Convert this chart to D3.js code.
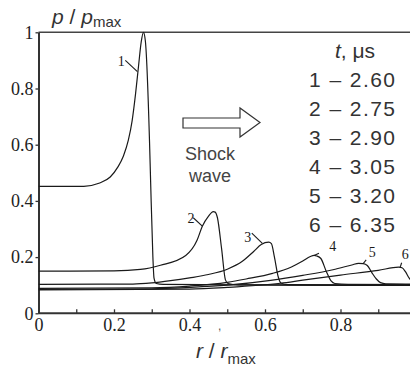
<!DOCTYPE html>
<html><head><meta charset="utf-8">
<script src="https://cdn.jsdelivr.net/npm/d3@7"></script>
<style>body{margin:0;background:#fff}svg{display:block}</style>
</head><body>
<script>
// ---- data ----
const curve1 = [[0,0.452],[0.12,0.452],[0.16,0.463],[0.19,0.485],[0.21,0.52],[0.225,0.56],[0.238,0.616],[0.248,0.685],[0.257,0.78],[0.265,0.88],[0.272,0.965],[0.278,1.0],[0.283,0.97],[0.294,0.616],[0.297,0.47],[0.303,0.2],[0.306,0.125],[0.312,0.106],[0.33,0.103],[0.6,0.101],[1.0,0.1]];
const curve2 = [[0,0.15],[0.2,0.151],[0.27,0.156],[0.323,0.171],[0.39,0.206],[0.42,0.26],[0.434,0.31],[0.45,0.345],[0.463,0.362],[0.468,0.36],[0.474,0.34],[0.485,0.23],[0.495,0.12],[0.502,0.106],[0.53,0.101],[1.0,0.099]];
const curve3 = [[0,0.103],[0.25,0.104],[0.3,0.108],[0.35,0.116],[0.4,0.126],[0.45,0.138],[0.5,0.157],[0.54,0.185],[0.57,0.22],[0.59,0.245],[0.61,0.253],[0.617,0.248],[0.625,0.2],[0.635,0.13],[0.642,0.108],[0.66,0.102],[1.0,0.1]];
const curve4 = [[0,0.089],[0.3,0.091],[0.4,0.097],[0.5,0.11],[0.55,0.122],[0.62,0.142],[0.67,0.165],[0.7,0.186],[0.72,0.202],[0.73,0.206],[0.737,0.204],[0.748,0.195],[0.762,0.15],[0.775,0.115],[0.785,0.106],[0.82,0.103],[1.0,0.102]];
const curve5 = [[0,0.085],[0.3,0.087],[0.4,0.092],[0.5,0.1],[0.615,0.117],[0.7,0.135],[0.78,0.155],[0.83,0.172],[0.848,0.178],[0.86,0.177],[0.871,0.17],[0.883,0.145],[0.895,0.122],[0.906,0.109],[0.92,0.105],[1.0,0.104]];
const curve6 = [[0,0.083],[0.4,0.086],[0.5,0.092],[0.641,0.107],[0.7,0.118],[0.8,0.136],[0.9,0.153],[0.954,0.164],[0.963,0.162],[0.972,0.148],[0.982,0.125],[0.992,0.11]];
const curves = [curve1, curve2, curve3, curve4, curve5, curve6];
const curveLabels = ["1","2","3","4","5","6"];
const xTickLabels = ["0","0.2","0.4","0.6","0.8"];
const yTickLabels = ["0","0.2","0.4","0.6","0.8","1"];
const legendTitle = "μs";
const legendRows = ["1 – 2.60","2 – 2.75","3 – 2.90","4 – 3.05","5 – 3.20","6 – 6.35"];

// ---- layout ----
const W = 410, H = 374;
const svg = d3.select("body").append("svg").attr("width", W).attr("height", H);
const x = d3.scaleLinear().domain([0, 1]).range([38.5, 416]);
const y = d3.scaleLinear().domain([0, 1]).range([313.3, 32.3]);
const ink = "#1a1a1a", axisInk = "#333";

svg.append("clipPath").attr("id","clip").append("rect")
  .attr("x", x(0)).attr("y", y(1)-2).attr("width", W - x(0)).attr("height", y(0)-y(1)+2);

// frame top line
svg.append("line").attr("x1", x(0)).attr("x2", W).attr("y1", y(1)).attr("y2", y(1))
  .attr("stroke", "#444").attr("stroke-width", 1.6);

// x axis
const xAxis = d3.axisBottom(x).tickValues(d3.range(0, 1.0, 0.1)).tickSize(-4).tickSizeOuter(0)
  .tickFormat((d,i) => i % 2 === 0 ? xTickLabels[i/2] : "");
const gx = svg.append("g").attr("transform", `translate(0,${y(0)})`).call(xAxis);
gx.select(".domain").attr("d", `M${x(0)},0H${W}`).attr("stroke", axisInk).attr("stroke-width", 2);
gx.selectAll(".tick line").attr("stroke", axisInk).attr("stroke-width", 1.3);
gx.selectAll(".tick text").attr("font-family", "Liberation Serif, Times New Roman, serif")
  .attr("font-size", 18).attr("fill", "#222").attr("dy", 0).attr("y", 18);

// y axis
const yAxis = d3.axisLeft(y).tickValues(d3.range(0, 1.01, 0.2)).tickSize(3).tickSizeOuter(0)
  .tickFormat((d,i) => yTickLabels[i]);
const gy = svg.append("g").attr("transform", `translate(${x(0)},0)`).call(yAxis);
gy.select(".domain").attr("stroke", axisInk).attr("stroke-width", 2);
gy.selectAll(".tick line").attr("stroke", axisInk).attr("stroke-width", 1.3);
gy.selectAll(".tick text").attr("font-family", "Liberation Serif, Times New Roman, serif")
  .attr("font-size", 18).attr("fill", "#222").attr("x", -5).attr("dy", "0.32em");

// curves
const line = d3.line().x(d => x(d[0])).y(d => y(d[1])).curve(d3.curveMonotoneX);
const gc = svg.append("g").attr("clip-path", "url(#clip)");
gc.selectAll("path.c").data(curves).join("path").attr("class","c")
  .attr("d", line).attr("fill", "none").attr("stroke", ink).attr("stroke-width", 1.2);

// curve labels with leaders
const labelPos = [
  {t:[0.21,0.88], a:[0.23,0.90], b:[0.262,0.86]},
  {t:[0.395,0.32], a:[0.41,0.34], b:[0.434,0.31]},
  {t:[0.545,0.255], a:[0.565,0.285], b:[0.593,0.249]},
  {t:[0.77,0.22], a:[0.743,0.214], b:[0.73,0.206]},
  {t:[0.875,0.2], a:[0.868,0.19], b:[0.86,0.177]},
  {t:[0.962,0.195], a:[0.962,0.18], b:[0.958,0.164]}
];
const gl = svg.append("g");
labelPos.forEach((p,i) => {
  gl.append("line").attr("x1", x(p.a[0])).attr("y1", y(p.a[1])).attr("x2", x(p.b[0])).attr("y2", y(p.b[1]))
    .attr("stroke", ink).attr("stroke-width", 1.1);
  gl.append("text").attr("x", x(p.t[0])).attr("y", y(p.t[1])).text(curveLabels[i])
    .attr("font-family", "Liberation Serif, Times New Roman, serif").attr("font-size", 14).attr("fill", ink);
});

// axis titles
const yt = svg.append("text").attr("x", 52).attr("y", 23.5).attr("font-family", "Liberation Sans, Arial, sans-serif")
  .attr("font-size", 21).attr("fill", "#333");
yt.append("tspan").attr("font-style","italic").text("p");
yt.append("tspan").text(" / ");
yt.append("tspan").attr("font-style","italic").text("p");
yt.append("tspan").attr("font-size", 15).attr("dy", 3).text("max");

const xt = svg.append("text").attr("x", 196).attr("y", 358).attr("font-family", "Liberation Sans, Arial, sans-serif")
  .attr("font-size", 21).attr("fill", "#333");
xt.append("tspan").attr("font-style","italic").text("r");
xt.append("tspan").text(" / ");
xt.append("tspan").attr("font-style","italic").text("r");
xt.append("tspan").attr("font-size", 15).attr("dy", 6).text("max");
svg.append("text").attr("x", 218).attr("y", 330).text(",").attr("font-size", 12).attr("fill", "#555")
  .attr("font-family", "Liberation Sans, Arial, sans-serif");

// legend
const lg = svg.append("text").attr("x", 355).attr("y", 58).attr("text-anchor", "middle")
  .attr("font-family", "Liberation Sans, Arial, sans-serif").attr("font-size", 21).attr("fill", "#333");
lg.append("tspan").attr("font-style","italic").text("t");
lg.append("tspan").text(", " + legendTitle);
svg.append("g").selectAll("text").data(legendRows).join("text")
  .attr("x", 309).attr("y", (d,i) => 87 + i * 29)
  .attr("textLength", 86).attr("lengthAdjust", "spacing")
  .attr("font-family", "Liberation Sans, Arial, sans-serif").attr("font-size", 21).attr("fill", "#333")
  .text(d => d);

// arrow
svg.append("path")
  .attr("d", "M183,118 L240,118 L240,108 L260,122.5 L240,137 L240,128 L183,128 Z")
  .attr("fill", "#fff").attr("stroke", "#333").attr("stroke-width", 1.2);
svg.append("text").attr("x", 210).attr("y", 160).attr("text-anchor","middle")
  .attr("font-family", "Liberation Sans, Arial, sans-serif").attr("font-size", 18).attr("fill", "#444").text("Shock");
svg.append("text").attr("x", 210).attr("y", 182).attr("text-anchor","middle")
  .attr("font-family", "Liberation Sans, Arial, sans-serif").attr("font-size", 18).attr("fill", "#444").text("wave");
</script>
</body></html>
